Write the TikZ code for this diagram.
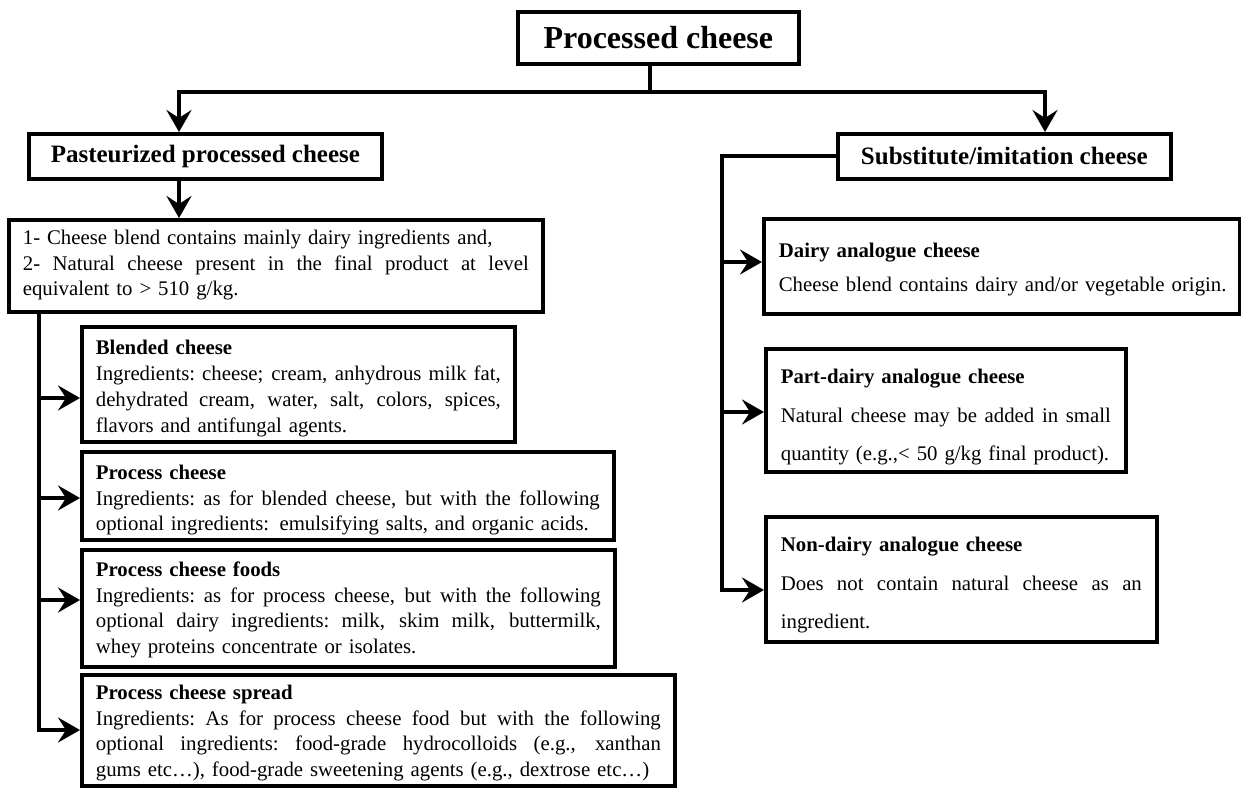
\documentclass[tikz,border=0pt]{standalone}
\usepackage{fontspec}
\setmainfont{Liberation Serif}
\usetikzlibrary{arrows.meta,calc}
\setlength{\parindent}{0pt}
\newlength{\tw}
\newcommand{\jline}[1]{\leavevmode\hbox to \tw{\spaceskip=0.25em plus 1fil\xspaceskip=0.25em plus 1fil\relax #1}}
\newcommand{\lline}[1]{\leavevmode\hbox to \tw{#1\hss}}
\begin{document}
\begin{tikzpicture}[x=1pt,y=-1pt,
 tw/.style={text width=#1, execute at begin node={\setlength{\tw}{#1pt}}},
 tb/.style 2 args={text height=#1pt, text depth=#2pt},
 box/.style={draw,line width=3.7pt,anchor=north west,inner xsep=14pt,inner ysep=0pt,align=left,font=\fontsize{20.8}{25.5}\selectfont},
 rbox/.style={box,inner xsep=15pt,font=\fontsize{20.8}{38.3}\selectfont},
 hbox/.style={draw,line width=3.7pt,anchor=north west,inner sep=0pt,font=\bfseries\fontsize{25}{28}\selectfont},
 conn/.style={line width=4pt},
 arr/.style={line width=4pt,-{Stealth[length=22pt,width=25pt,inset=8pt]}}]
\useasboundingbox (0,0) rectangle (1241,788);

% headings
\node[hbox,minimum width=281,minimum height=52,font=\bfseries\fontsize{32}{36}\selectfont] (top) at (516,10) {Processed cheese};
\node[hbox,minimum width=353,minimum height=45] (past) at (27,132) {Pasteurized processed cheese};
\node[hbox,minimum width=333,minimum height=45] (sub) at (836,132) {Substitute/imitation cheese};

% left column
\node[box,minimum width=534,tw=506,tb={25}{67}] (crit) at (7,218) {%
\lline{1- Cheese blend contains mainly dairy ingredients and,}\\
\jline{2- Natural cheese present in the final product at level}\\
\lline{equivalent to > 510 g/kg.}};

\node[box,minimum width=433,tw=405,tb={28}{87},font=\fontsize{20.8}{26}\selectfont] (blend) at (80,325) {%
\lline{\textbf{Blended cheese}}\\
\jline{Ingredients: cheese; cream, anhydrous milk fat,}\\
\jline{dehydrated cream, water, salt, colors, spices,}\\
\lline{flavors and antifungal agents.}};

\node[box,minimum width=532,tw=504,tb={28}{60}] (proc) at (80,450) {%
\lline{\textbf{Process cheese}}\\
\jline{Ingredients: as for blended cheese, but with the following}\\
\lline{optional ingredients: emulsifying salts, and organic acids.}};

\node[box,minimum width=533,tw=505,tb={27}{90}] (food) at (80,548) {%
\lline{\textbf{Process cheese foods}}\\
\jline{Ingredients: as for process cheese, but with the following}\\
\jline{optional dairy ingredients: milk, skim milk, buttermilk,}\\
\lline{whey proteins concentrate or isolates.}};

\node[box,minimum width=593,tw=565,tb={25}{86}] (spread) at (80,673) {%
\lline{\textbf{Process cheese spread}}\\
\jline{Ingredients: As for process cheese food but with the following}\\
\jline{optional ingredients: food-grade hydrocolloids (e.g., xanthan}\\
\lline{gums etc…), food-grade sweetening agents (e.g., dextrose etc…)}};

% right column
\node[rbox,minimum width=476,tw=446,tb={39}{56},font=\fontsize{20.8}{34}\selectfont] (dairy) at (762,217) {%
\lline{\textbf{Dairy analogue cheese}}\\
\lline{Cheese blend contains dairy and/or vegetable origin.}};

\node[rbox,minimum width=360,tw=330,tb={35}{88}] (part) at (764,347) {%
\lline{\textbf{Part-dairy analogue cheese}}\\
\jline{Natural cheese may be added in small}\\
\lline{quantity (e.g.,< 50 g/kg final product).}};

\node[rbox,minimum width=391,tw=361,tb={35}{90}] (non) at (764,515) {%
\lline{\textbf{Non-dairy analogue cheese}}\\
\jline{Does not contain natural cheese as an}\\
\lline{ingredient.}};

% connectors: top
\coordinate (j0) at (650,92);
\coordinate (jl) at (179,92);
\coordinate (jr) at (1045,92);
\draw[conn] (j0 |- top.south) -- (j0);
\draw[conn,line cap=rect] (jl) -- (jr);
\draw[arr] (jl) -- (jl |- past.north);
\draw[arr] (jr) -- (jr |- sub.north);

% pasteurized -> criteria
\coordinate (p1) at (179,0);
\draw[arr] (p1 |- past.south) -- (p1 |- crit.north);

% left spine
\coordinate (sl) at (39,0);
\coordinate (a1) at (39,398);
\coordinate (a2) at (39,498);
\coordinate (a3) at (39,600);
\coordinate (a4) at (39,730);
\draw[conn,line cap=rect] (sl |- crit.south) -- (a4);
\draw[arr] (a1) -- (a1 -| blend.west);
\draw[arr] (a2) -- (a2 -| proc.west);
\draw[arr] (a3) -- (a3 -| food.west);
\draw[arr] (a4) -- (a4 -| spread.west);

% right spine
\coordinate (rx) at (722,0);
\coordinate (b1) at (722,262);
\coordinate (b2) at (722,412);
\coordinate (b3) at (722,590);
\draw[conn,line cap=rect] (sub.west) -- (sub.west -| rx) -- (b3);
\draw[arr] (b1) -- (b1 -| dairy.west);
\draw[arr] (b2) -- (b2 -| part.west);
\draw[arr] (b3) -- (b3 -| non.west);
\end{tikzpicture}
\end{document}
